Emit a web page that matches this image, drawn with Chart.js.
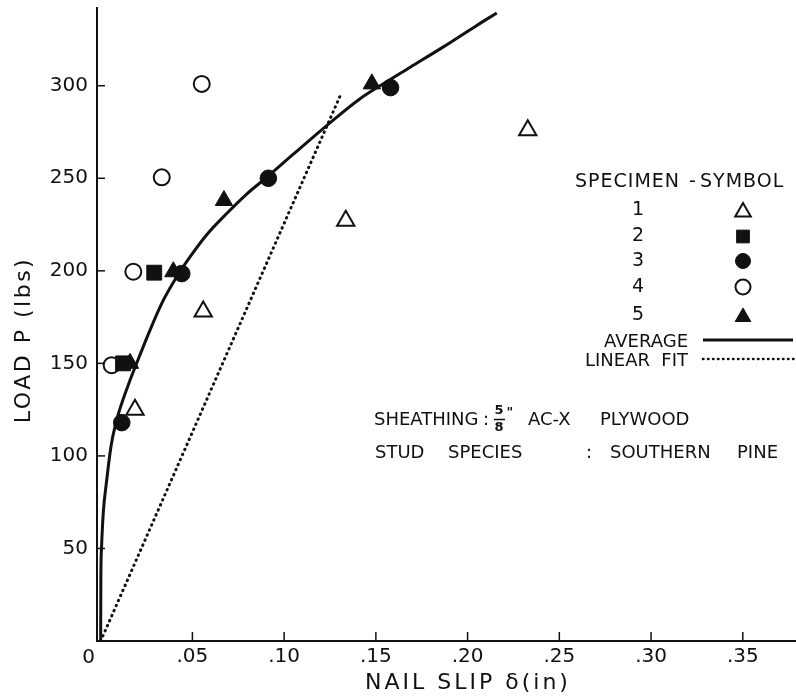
<!DOCTYPE html>
<html>
<head>
<meta charset="utf-8">
<script src="https://cdn.jsdelivr.net/npm/chart.js@4.4.1/dist/chart.umd.min.js"></script>
<style>
  html, body { margin: 0; padding: 0; background: #fff; }
  canvas { display: block; }
</style>
</head>
<body>
<canvas id="chart" width="796" height="698"></canvas>
<script>
const xTickValues = [0, 0.05, 0.10, 0.15, 0.20, 0.25, 0.30, 0.35];
const xTickLabels = ['0', '.05', '.10', '.15', '.20', '.25', '.30', '.35'];
const yTickValues = [50, 100, 150, 200, 250, 300];
const yTickLabels = ['50', '100', '150', '200', '250', '300'];

// specimen readings: slip (in) vs load (lbs)
const spec1Slip = [0.0187, 0.0559, 0.1336, 0.2328];
const spec1Load = [125, 178, 227, 276];
const spec2Slip = [0.0122, 0.0292];
const spec2Load = [150, 199];
const spec3Slip = [0.0115, 0.0442, 0.0914, 0.158];
const spec3Load = [118, 198.5, 250, 299];
const spec4Slip = [0.006, 0.0178, 0.0333, 0.0551];
const spec4Load = [149, 199.5, 250.5, 301];
const spec5Slip = [0.016, 0.0396, 0.0672, 0.1478];
const spec5Load = [150, 199.5, 238, 301];

// average curve and linear fit
const avgSlip = [0, 0.0001, 0.00045, 0.0014, 0.0033, 0.0056, 0.0082, 0.0154, 0.0196, 0.0269, 0.0341,
  0.0414, 0.0487, 0.0578, 0.0687, 0.0796, 0.0905, 0.105, 0.1232, 0.1414, 0.1523, 0.1687, 0.1868, 0.205, 0.2159];
const avgLoad = [0, 33, 50, 69, 87, 105, 117.5, 139.3, 150, 168, 184,
  196.7, 207.5, 219.5, 231, 241.5, 250.5, 263, 278.5, 293, 300, 310, 321, 332.6, 339.3];
const fitSlip = [0, 0.1314];
const fitLoad = [0, 296.5];

const legendNums = ['1', '2', '3', '4', '5'];

const INK = '#111';
const FONT = 'DejaVu Sans';

const pts = (xs, ys) => xs.map((x, i) => ({ x: x, y: ys[i] }));

function drawMark(ctx, style, filled, r, x, y) {
  ctx.save();
  ctx.beginPath();
  if (style === 'triangle') {
    ctx.moveTo(x, y - r);
    ctx.lineTo(x + r * Math.sin(2 * Math.PI / 3), y + r / 2);
    ctx.lineTo(x - r * Math.sin(2 * Math.PI / 3), y + r / 2);
    ctx.closePath();
  } else if (style === 'rect') {
    const s = r * Math.SQRT1_2;
    ctx.rect(x - s, y - s, 2 * s, 2 * s);
  } else {
    ctx.arc(x, y, r, 0, Math.PI * 2);
  }
  ctx.fillStyle = filled ? INK : '#fff';
  ctx.fill();
  ctx.lineWidth = filled ? 1 : 2;
  ctx.strokeStyle = INK;
  ctx.stroke();
  ctx.restore();
}

const extras = {
  id: 'extras',
  afterDraw(chart) {
    const ctx = chart.ctx;
    const xs = chart.scales.x, ys = chart.scales.y;
    const area = chart.chartArea;
    ctx.save();
    ctx.strokeStyle = INK;
    ctx.fillStyle = INK;

    // inward tick marks
    ctx.lineWidth = 1.5;
    yTickValues.forEach(v => {
      const py = ys.getPixelForValue(v);
      ctx.beginPath(); ctx.moveTo(area.left, py); ctx.lineTo(area.left + 8, py); ctx.stroke();
    });
    xTickValues.slice(1).forEach(v => {
      const px = xs.getPixelForValue(v);
      ctx.beginPath(); ctx.moveTo(px, area.bottom); ctx.lineTo(px, area.bottom - 9); ctx.stroke();
    });

    // "0" label sits left of the origin
    ctx.font = '20px "' + FONT + '"';
    ctx.textAlign = 'center';
    ctx.textBaseline = 'middle';
    ctx.fillText(xTickLabels[0], xs.getPixelForValue(0) - 12, 658);

    // axis titles
    ctx.font = '22px "' + FONT + '"';
    ctx.letterSpacing = '3px';
    ctx.fillText('NAIL SLIP δ(in)', 468, 683);
    ctx.save();
    ctx.translate(24, 340);
    ctx.rotate(-Math.PI / 2);
    ctx.letterSpacing = '2.5px';
    ctx.fillText('LOAD P (lbs)', 0, 0);
    ctx.restore();
    ctx.letterSpacing = '0px';

    // sheathing / species note
    ctx.font = '18px "' + FONT + '"';
    ctx.textAlign = 'left';
    ctx.fillText('SHEATHING', 374, 420);
    ctx.fillText(':', 483, 420);
    ctx.fillText('AC-X', 528, 420);
    ctx.fillText('PLYWOOD', 600, 420);
    ctx.fillText('STUD', 375, 453);
    ctx.fillText('SPECIES', 448, 453);
    ctx.fillText(':', 586, 453);
    ctx.fillText('SOUTHERN', 610, 453);
    ctx.fillText('PINE', 737, 453);
    ctx.font = 'bold 13px "' + FONT + '"';
    ctx.textAlign = 'center';
    ctx.fillText('5', 499, 411);
    ctx.fillText('8', 499, 428);
    ctx.fillText('"', 510, 413);
    ctx.lineWidth = 1.5;
    ctx.beginPath(); ctx.moveTo(494, 419.5); ctx.lineTo(505, 419.5); ctx.stroke();

    // specimen legend
    ctx.font = '19px "' + FONT + '"';
    ctx.textAlign = 'left';
    ctx.letterSpacing = '1px';
    ctx.fillText('SPECIMEN', 575, 182);
    ctx.fillText('-', 689, 182);
    ctx.fillText('SYMBOL', 700, 182);
    ctx.letterSpacing = '0px';
    ctx.textAlign = 'center';
    const rowY = [210, 236.5, 261, 287, 315];
    const marks = [['triangle', false, 9], ['rect', true, 9], ['circle', true, 7.5], ['circle', false, 7.5], ['triangle', true, 9]];
    legendNums.forEach((n, i) => {
      ctx.fillText(n, 638, rowY[i]);
      const m = marks[i];
      drawMark(ctx, m[0], m[1], m[2], 743, rowY[i] + (m[0] === 'triangle' ? 2 : 0));
    });
    ctx.textAlign = 'right';
    ctx.font = '18px "' + FONT + '"';
    ctx.fillText('AVERAGE', 688, 342);
    ctx.fillText('LINEAR', 650, 361);
    ctx.fillText('FIT', 688, 361);
    ctx.lineWidth = 3;
    ctx.beginPath(); ctx.moveTo(703, 340); ctx.lineTo(793, 340); ctx.stroke();
    ctx.lineWidth = 2.5;
    ctx.lineCap = 'round';
    ctx.setLineDash([0.5, 4.5]);
    ctx.beginPath(); ctx.moveTo(703, 359); ctx.lineTo(795, 359); ctx.stroke();
    ctx.restore();
  }
};

const scatter = (data, style, filled, r) => ({
  type: 'scatter',
  data: data,
  pointStyle: style,
  pointRadius: r,
  pointBackgroundColor: filled ? INK : '#fff',
  pointBorderColor: INK,
  pointBorderWidth: filled ? 1 : 2,
  showLine: false
});

new Chart(document.getElementById('chart'), {
  type: 'scatter',
  data: {
    datasets: [
      scatter(pts(spec1Slip, spec1Load), 'triangle', false, 10),
      scatter(pts(spec2Slip, spec2Load), 'rect', true, 10.5),
      scatter(pts(spec3Slip, spec3Load), 'circle', true, 8.3),
      scatter(pts(spec4Slip, spec4Load), 'circle', false, 8),
      scatter(pts(spec5Slip, spec5Load), 'triangle', true, 10),
      {
        type: 'line', data: pts(avgSlip, avgLoad), borderColor: INK, borderWidth: 3,
        pointRadius: 0, cubicInterpolationMode: 'monotone', fill: false
      },
      {
        type: 'line', data: pts(fitSlip, fitLoad), borderColor: INK, borderWidth: 3,
        borderDash: [0.5, 5], borderCapStyle: 'round', pointRadius: 0, fill: false
      }
    ]
  },
  options: {
    responsive: false,
    animation: false,
    events: [],
    layout: { autoPadding: false, padding: { top: 8, right: 0, bottom: 0, left: 0 } },
    plugins: { legend: { display: false }, tooltip: { enabled: false } },
    scales: {
      x: {
        type: 'linear',
        min: -0.002,
        max: 0.379,
        afterBuildTicks: s => { s.ticks = xTickValues.map(v => ({ value: v })); },
        afterFit: s => { s.height = 57; s.paddingLeft = 0; s.paddingRight = 0; },
        ticks: {
          callback: (v, i) => (i === 0 ? '' : xTickLabels[i]),
          font: { family: FONT, size: 20 },
          color: INK,
          padding: 4,
          maxRotation: 0,
          autoSkip: false
        },
        grid: { display: false, drawTicks: false },
        border: { color: INK, width: 2 }
      },
      y: {
        type: 'linear',
        min: 0,
        max: 342,
        afterBuildTicks: s => { s.ticks = yTickValues.map(v => ({ value: v })); },
        afterFit: s => { s.width = 97; s.paddingTop = 0; s.paddingBottom = 0; },
        ticks: {
          callback: (v, i) => yTickLabels[i],
          font: { family: FONT, size: 20 },
          color: INK,
          padding: 9,
          autoSkip: false
        },
        grid: { display: false, drawTicks: false },
        border: { color: INK, width: 2 }
      }
    }
  },
  plugins: [extras]
});
</script>
</body>
</html>
